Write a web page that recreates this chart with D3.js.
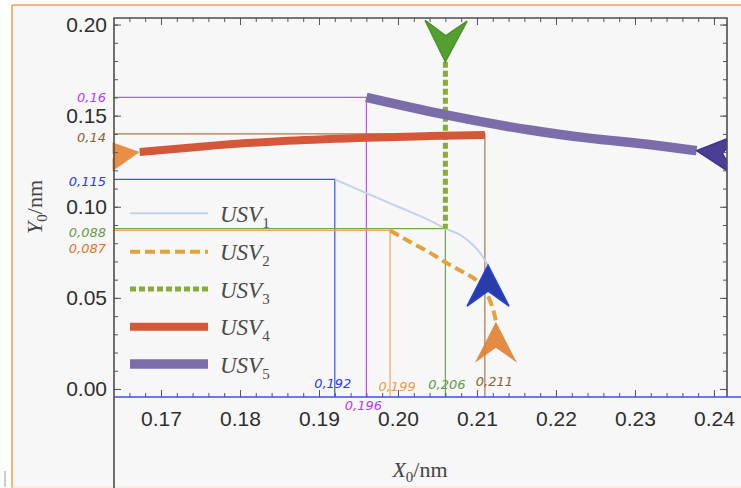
<!DOCTYPE html>
<html>
<head>
<meta charset="utf-8">
<script src="https://cdn.jsdelivr.net/npm/d3@7"></script>
<style>
  html, body { margin: 0; padding: 0; background: #ffffff; }
  svg { display: block; }
</style>
</head>
<body>
<svg id="chart" width="741" height="488"></svg>
<script>
// ---- Data -----------------------------------------------------------------
// Trajectories of five unmanned surface vessels, [X0, Y0] in nm
const usv1 = [[0.192, 0.115], [0.196, 0.1075], [0.200, 0.100], [0.204, 0.0925],
              [0.206, 0.088], [0.2079, 0.0845], [0.2095, 0.079], [0.2106, 0.0735],
              [0.2111, 0.0699], [0.2114, 0.068]];
const usv2 = [[0.199, 0.087], [0.2015, 0.0808], [0.2038, 0.0754], [0.2062, 0.0690],
              [0.2083, 0.0640], [0.2103, 0.0580], [0.2116, 0.0490], [0.2122, 0.0410],
              [0.2124, 0.0369]];
const usv3 = [[0.206, 0.1796], [0.206, 0.088]];
const usv4 = [[0.1673, 0.1301], [0.175, 0.1330], [0.185, 0.1360], [0.195, 0.1378],
              [0.204, 0.1388], [0.211, 0.1394]];
const usv5 = [[0.196, 0.160], [0.2061, 0.1504], [0.2167, 0.1421], [0.2239, 0.1378],
              [0.2323, 0.1339], [0.2378, 0.1308]];

const seriesNames = ["1", "2", "3", "4", "5"];

// Axis ticks
const xTickValues = [0.17, 0.18, 0.19, 0.20, 0.21, 0.22, 0.23, 0.24];
const yTickValues = [0.00, 0.05, 0.10, 0.15, 0.20];

// Reference guides: crossing points marked on the axes
const guideX = [0.192, 0.196, 0.199, 0.206, 0.211];
const guideY = [0.115, 0.160, 0.087, 0.088, 0.140];

// ---- Layout & style -------------------------------------------------------
const W = 741, H = 488;
const plot = { left: 114, right: 727, top: 18, bottom: 397 };

const x = d3.scaleLinear().domain([0.16405, 0.24165]).range([plot.left, plot.right]);
const y = d3.scaleLinear().domain([-0.0044, 0.2036]).range([plot.bottom, plot.top]);

const seriesStyle = [
  { stroke: "#c6d0ea", width: 2,   dash: null,  curve: d3.curveMonotoneX,
    arrow: { at: "end", angle: -90, fill: "#2a3ca8", stroke: "#2443e6", opacity: 1 } },
  { stroke: "#e2a23c", width: 4,   dash: "10,5", curve: d3.curveMonotoneX,
    arrow: { at: "end", angle: -90, fill: "#e07c2a", stroke: "none", opacity: 0.88 } },
  { stroke: "#8aab3a", width: 5,   dash: "6,3", curve: d3.curveLinear,
    arrow: { at: "start", angle: 91, fill: "#54a02e", stroke: "#4a9428", opacity: 1 } },
  { stroke: "#d4573a", width: 8,   dash: null,  curve: d3.curveMonotoneX,
    arrow: { at: "start", angle: -8, fill: "#e9883c", stroke: "none", opacity: 0.95 } },
  { stroke: "#7b6daa", width: 9.5, dash: null,  curve: d3.curveMonotoneX,
    arrow: { at: "end", angle: 186, fill: "#4b3f95", stroke: "#3d3290", opacity: 1 } }
];
const allSeries = [usv1, usv2, usv3, usv4, usv5];

const guideStyle = [
  { line: "#3d4ff5", xText: "#2a3af0", yText: "#2a3af0", xdx: -2,  xcy: 383.5, ydy: 2 },
  { line: "#bb55f5", xText: "#b03ff0", yText: "#b03ff0", xdx: -3,  xcy: 405.5, ydy: 0 },
  { line: "#f4a455", xText: "#f09a4a", yText: "#e2702e", xdx: 7,   xcy: 386,   ydy: 18 },
  { line: "#6aa84f", xText: "#5f9a45", yText: "#6a9a48", xdx: 1.5, xcy: 384.5, ydy: 4 },
  { line: "#a77a4c", xText: "#8c6232", yText: "#8c6232", xdx: 9.5, xcy: 381,   ydy: 3 }
];

const svg = d3.select("#chart");

// ---- Background and outer frame ------------------------------------------
svg.append("rect").attr("x", 0).attr("y", 0).attr("width", W).attr("height", H).attr("fill", "#ffffff");
svg.append("rect").attr("x", 12).attr("y", 5).attr("width", W - 12).attr("height", H - 5).attr("fill", "#f7f7f7");
svg.append("line").attr("x1", 12).attr("x2", W).attr("y1", 5).attr("y2", 5)
  .attr("stroke", "#f3a04e").attr("stroke-width", 1.5);
svg.append("line").attr("x1", 12).attr("x2", 12).attr("y1", 5).attr("y2", H)
  .attr("stroke", "#f3a04e").attr("stroke-width", 1.5);
svg.append("line").attr("x1", 12).attr("x2", W).attr("y1", 487).attr("y2", 487)
  .attr("stroke", "#fbe4d0").attr("stroke-width", 1);
svg.append("line").attr("x1", 5).attr("x2", 5).attr("y1", 471).attr("y2", 487)
  .attr("stroke", "#9a9a9a").attr("stroke-width", 1);

// ---- Guides --------------------------------------------------------------
const fmtComma = v => String(v).replace(".", ",");
const guides = svg.append("g");
guideX.forEach((gx, i) => {
  const gy = guideY[i], st = guideStyle[i];
  guides.append("path")
    .attr("d", `M${plot.left},${y(gy)}H${x(gx)}V${plot.bottom}`)
    .attr("fill", "none").attr("stroke", st.line).attr("stroke-width", 1.2);
});
const labelFont = "'DejaVu Sans', Verdana, sans-serif";
guideX.forEach((gx, i) => {
  const gy = guideY[i], st = guideStyle[i];
  guides.append("text")
    .attr("x", x(gx) + st.xdx).attr("y", st.xcy).attr("dy", "0.36em")
    .attr("text-anchor", "middle")
    .attr("font-family", labelFont).attr("font-style", "italic").attr("font-size", 13)
    .attr("fill", st.xText).text(fmtComma(gx));
  guides.append("text")
    .attr("x", 106).attr("y", y(gy) + st.ydy).attr("dy", "0.36em")
    .attr("text-anchor", "end")
    .attr("font-family", labelFont).attr("font-style", "italic").attr("font-size", 13)
    .attr("fill", st.yText).text(fmtComma(gy));
});

// ---- Series --------------------------------------------------------------
const clip = svg.append("defs").append("clipPath").attr("id", "plotClip");
clip.append("rect").attr("x", plot.left - 1.5).attr("y", plot.top - 2)
  .attr("width", plot.right - plot.left + 1.5).attr("height", plot.bottom - plot.top + 2);

const marks = svg.append("g").attr("clip-path", "url(#plotClip)");
allSeries.forEach((data, i) => {
  const st = seriesStyle[i];
  const line = d3.line().x(d => x(d[0])).y(d => y(d[1])).curve(st.curve);
  marks.append("path")
    .datum(data)
    .attr("d", line)
    .attr("fill", "none")
    .attr("stroke", st.stroke)
    .attr("stroke-width", st.width)
    .attr("stroke-dasharray", st.dash)
    .attr("stroke-linecap", "butt")
    .attr("stroke-linejoin", "round");
});

// Arrowhead markers at each vessel's end point
const AL = 41, AW = 21, AN = 26;
const arrowD = `M0,0L${-AL},${-AW}L${-AN},0L${-AL},${AW}Z`;
allSeries.forEach((data, i) => {
  const a = seriesStyle[i].arrow;
  const p = a.at === "end" ? data[data.length - 1] : data[0];
  marks.append("path")
    .attr("d", arrowD)
    .attr("transform", `translate(${x(p[0])},${y(p[1])}) rotate(${a.angle})`)
    .attr("fill", a.fill)
    .attr("fill-opacity", a.opacity)
    .attr("stroke", a.stroke)
    .attr("stroke-width", 1.5)
    .attr("stroke-linejoin", "miter");
});

// ---- Axes ----------------------------------------------------------------
const tickColor = "#555555";
const xMinor = d3.range(83, 121).map(k => +(k * 0.002).toFixed(3));
const yMinor = d3.range(0, 21).map(k => +(k * 0.01).toFixed(2));

function styleAxis(sel) {
  sel.select(".domain").remove();
  sel.selectAll(".tick line").attr("stroke", tickColor).attr("stroke-width", 1);
  sel.selectAll(".tick text")
    .attr("font-family", "'Liberation Sans', Arial, sans-serif")
    .attr("font-size", 21)
    .attr("fill", "#2e2e2e");
}

// bottom
svg.append("g").attr("transform", `translate(0,${plot.bottom})`)
  .call(d3.axisBottom(x).tickValues(xMinor).tickSize(-4).tickFormat("")).call(styleAxis);
svg.append("g").attr("transform", `translate(0,${plot.bottom})`)
  .call(d3.axisBottom(x).tickValues(xTickValues).tickSize(-7).tickPadding(14).tickFormat(d3.format(".2f")))
  .call(styleAxis);
// top
svg.append("g").attr("transform", `translate(0,${plot.top})`)
  .call(d3.axisTop(x).tickValues(xMinor).tickSize(-4).tickFormat("")).call(styleAxis);
svg.append("g").attr("transform", `translate(0,${plot.top})`)
  .call(d3.axisTop(x).tickValues(xTickValues).tickSize(-7).tickFormat("")).call(styleAxis);
// left
svg.append("g").attr("transform", `translate(${plot.left},0)`)
  .call(d3.axisLeft(y).tickValues(yMinor).tickSize(-4).tickFormat("")).call(styleAxis);
svg.append("g").attr("transform", `translate(${plot.left},0)`)
  .call(d3.axisLeft(y).tickValues(yTickValues).tickSize(-7).tickPadding(7).tickFormat(d3.format(".2f")))
  .call(styleAxis);
// right
svg.append("g").attr("transform", `translate(${plot.right},0)`)
  .call(d3.axisRight(y).tickValues(yMinor).tickSize(-4).tickFormat("")).call(styleAxis);
svg.append("g").attr("transform", `translate(${plot.right},0)`)
  .call(d3.axisRight(y).tickValues(yTickValues).tickSize(-7).tickFormat("")).call(styleAxis);

// Frame
svg.append("path")
  .attr("d", `M${plot.left},${H}V${plot.top}H${plot.right}V${plot.bottom}`)
  .attr("fill", "none").attr("stroke", "#4e4e4e").attr("stroke-width", 1.6);
svg.append("line")
  .attr("x1", plot.left).attr("x2", W).attr("y1", plot.bottom).attr("y2", plot.bottom)
  .attr("stroke", "#3d4ff5").attr("stroke-width", 1.5);

// ---- Axis titles ---------------------------------------------------------
const serif = "'Liberation Serif', 'Times New Roman', serif";
const xt = svg.append("text").attr("x", 420).attr("y", 477).attr("text-anchor", "middle")
  .attr("font-family", serif).attr("font-size", 22).attr("fill", "#444");
xt.append("tspan").attr("font-style", "italic").text("X");
xt.append("tspan").attr("font-size", 15).attr("dy", 5).text("0");
xt.append("tspan").attr("dy", -5).text("/nm");

const yt = svg.append("text").attr("transform", "translate(42,207) rotate(-90)")
  .attr("text-anchor", "middle")
  .attr("font-family", serif).attr("font-size", 22).attr("fill", "#444");
yt.append("tspan").attr("font-style", "italic").text("Y");
yt.append("tspan").attr("font-size", 15).attr("dy", 5).text("0");
yt.append("tspan").attr("dy", -5).text("/nm");

// ---- Legend --------------------------------------------------------------
const legendRows = [213.3, 251.7, 289, 326.7, 364];
const legend = svg.append("g");
seriesNames.forEach((name, i) => {
  const st = seriesStyle[i];
  const ly = legendRows[i];
  legend.append("line")
    .attr("x1", 130).attr("x2", 208).attr("y1", ly).attr("y2", ly)
    .attr("stroke", st.stroke).attr("stroke-width", st.width)
    .attr("stroke-dasharray", st.dash);
  const t = legend.append("text").attr("x", 220).attr("y", ly + 8.5)
    .attr("font-family", serif).attr("font-size", 23).attr("fill", "#4a4a4a")
    .attr("font-style", "italic");
  t.append("tspan").text("USV");
  t.append("tspan").attr("font-style", "normal").attr("font-size", 15).attr("dy", 6).text(name);
});
</script>
</body>
</html>
